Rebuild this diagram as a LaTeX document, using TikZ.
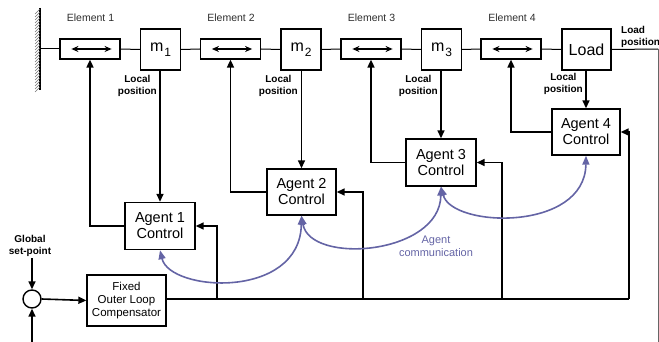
\documentclass[tikz,border=0pt]{standalone}
\usepackage{fontspec}
\setmainfont{Liberation Sans}
\usetikzlibrary{arrows.meta,calc}
\definecolor{commc}{RGB}{100,100,165}
\definecolor{lblc}{RGB}{45,45,45}
\newcommand{\massm}[1]{m\kern1pt\raisebox{-5pt}{\fontsize{12}{12}\selectfont #1}}
\tikzset{
 blk/.style={draw, line width=1.4pt, inner sep=0pt, align=center},
 elem/.style={blk, minimum width=60pt, minimum height=20pt, line width=1.2pt},
 mass/.style={blk, minimum width=40pt, minimum height=41pt, line width=1.2pt, font=\fontsize{16}{16}\selectfont},
 agent/.style={blk, minimum width=70pt, minimum height=47pt, font=\fontsize{14.5}{16}\selectfont},
 sig/.style={line width=1.6pt, -{Triangle[length=8pt,width=7pt]}},
 wire/.style={line width=1.6pt},
 mech/.style={line width=1pt},
 dbl/.style={line width=1.2pt, {Stealth[length=7pt,width=6pt]}-{Stealth[length=7pt,width=6pt]}},
 commarrow/.style={draw=commc, line width=1.6pt, {Triangle[length=9pt,width=7pt]}-{Triangle[length=9pt,width=7pt]}},
 elabel/.style={font=\fontsize{10.5}{12}\selectfont, text=lblc, inner sep=0pt},
 loc/.style={font=\bfseries\fontsize{10}{11.5}\selectfont, align=center, inner sep=0pt},
}
\begin{document}
\begin{tikzpicture}[x=1pt,y=-1pt]
\useasboundingbox (0,0) rectangle (659,342);
% wall
\draw[line width=1.2pt] (40,8) -- (40,90);
\foreach \yy in {9,12,...,87} \draw[line width=0.4pt, black!55] (35,\yy+5) -- (40,\yy);
\coordinate (wall) at (40,49);
% elements and masses
\node[elem] (e1) at (90,49) {};
\node[mass] (m1) at (160.5,49.5) {\massm{1}};
\node[elem] (e2) at (230.5,49) {};
\node[mass] (m2) at (301,49.5) {\massm{2}};
\node[elem] (e3) at (371,49) {};
\node[mass] (m3) at (441.5,49.5) {\massm{3}};
\node[elem] (e4) at (511,49) {};
\node[mass, minimum width=49pt] (load) at (586.5,49.5) {Load};
\foreach \e in {e1,e2,e3,e4} \draw[dbl] ([xshift=12pt]\e.west) -- ([xshift=-9pt]\e.east);
% mechanical links
\draw[mech] (wall) -- (e1.west);
\draw[mech] (e1.east) -- (m1.west);
\draw[mech] (m1.east) -- (e2.west);
\draw[mech] (e2.east) -- (m2.west);
\draw[mech] (m2.east) -- (e3.west);
\draw[mech] (e3.east) -- (m3.west);
\draw[mech] (m3.east) -- (e4.west);
\draw[mech] (e4.east) -- (load.west);
\coordinate (lp) at (658,49);
\coordinate (lpb) at (658,342);
\draw[line width=1pt] (load.east) -- (lp);
\draw[line width=0.7pt, black!60] (lp) -- (lpb);
% element labels
\node[elabel] (t1) at (90.5,17.5) {Element 1};
\node[elabel] (t2) at (231,17.5) {Element 2};
\node[elabel] (t3) at (371.5,17.5) {Element 3};
\node[elabel] (t4) at (512,17.5) {Element 4};
% agents
\node[agent] (a1) at (160,226) {Agent 1\\Control};
\node[agent, minimum width=69pt, minimum height=46pt] (a2) at (301.5,192) {Agent 2\\Control};
\node[agent] (a3) at (441,162.5) {Agent 3\\Control};
\node[agent, minimum width=68pt, minimum height=46pt] (a4) at (586,132) {Agent 4\\Control};
% local position
\draw[sig] (m1.south -| a1.north) -- (a1.north);
\draw[sig] (m2.south -| a2.north) -- (a2.north);
\draw[sig] (m3.south -| a3.north) -- (a3.north);
\draw[sig] (load.south -| a4.north) -- (a4.north);
\node[loc, anchor=east] (l1) at (157,86) {Local\\position};
\node[loc, anchor=east] (l2) at (298,86) {Local\\position};
\node[loc, anchor=east] (l3) at (438,86) {Local\\position};
\node[loc, anchor=east] (l4) at (583,84) {Local\\position};
\node[loc, anchor=west, align=left] (lpt) at (621,37) {Load\\position};
% agent outputs to elements
\draw[sig] (a1.west) -| (e1.south);
\draw[sig] (a2.west) -| (e2.south);
\draw[sig] (a3.west) -| (e3.south);
\draw[sig] (a4.west) -| (e4.south);
% summing junction and compensator
\node[draw, circle, line width=1.4pt, minimum size=18pt, inner sep=0pt] (sum) at (32,299) {};
\node[blk, minimum width=79pt, minimum height=51pt, line width=1.3pt, font=\fontsize{11.5}{13}\selectfont] (comp) at (126.5,300.5) {Fixed\\Outer Loop\\Compensator};
\node[loc] (gsp) at (30,246) {Global\\set-point};
\coordinate (gin) at (32,258);
\coordinate (fin) at (32,342);
\draw[sig] (gin) -- (sum.north);
\draw[sig] (fin) -- (sum.south);
\draw[sig] (sum.east) -- (comp.west);
% bus
\coordinate (j1) at (217,299);
\coordinate (j2) at (363,299);
\coordinate (j3) at (502,299);
\coordinate (j4) at (629,299);
\draw[wire] (comp.east |- j1) -- (j4);
\draw[sig] (j1) |- (a1.east);
\draw[sig] (j2) |- (a2.east);
\draw[sig] (j3) |- (a3.east);
\draw[sig] (j4) |- (a4.east);
% agent communication
\draw[commarrow] (a1.south) .. controls (170,292) and (300,300) .. (a2.south);
\draw[commarrow] (a2.south) .. controls (310,265) and (440,255) .. (a3.south);
\draw[commarrow] (a3.south) .. controls (452,228) and (585,232) .. (a4.south);
\node[font=\fontsize{11}{13}\selectfont, text=commc, align=center, inner sep=0pt] (acl) at (436,246.5) {Agent\\communication};
\end{tikzpicture}
\end{document}
